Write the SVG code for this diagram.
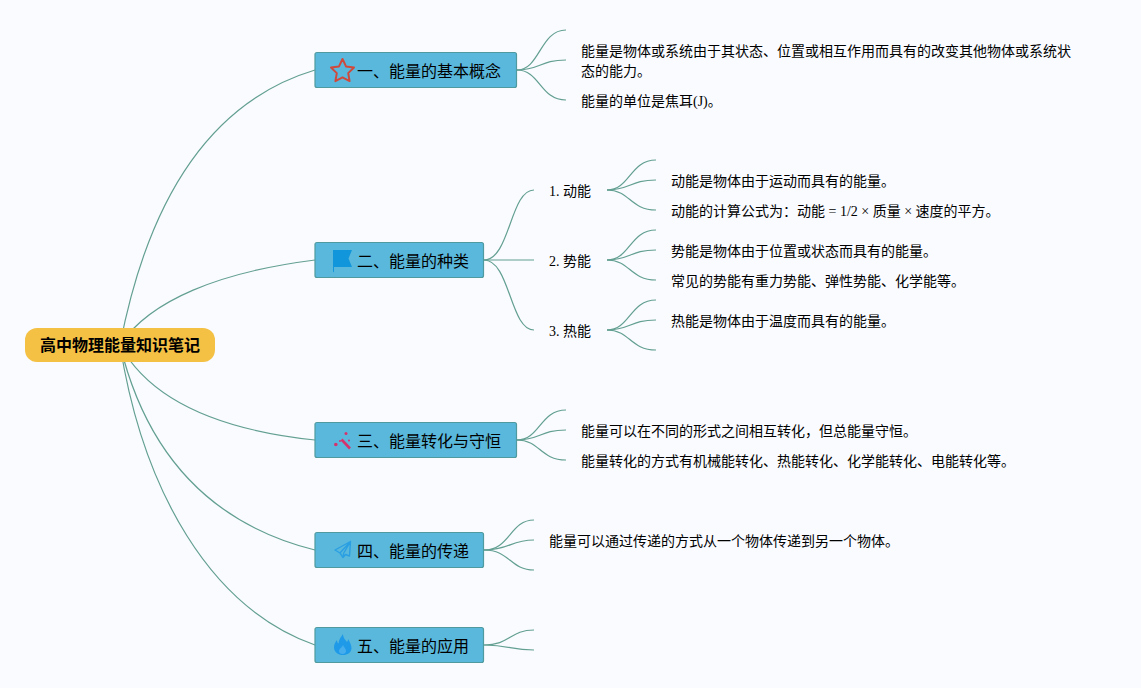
<svg xmlns="http://www.w3.org/2000/svg" width="1141" height="688" viewBox="0 0 1141 688">
<style>
text{font-family:"Liberation Serif","Noto Sans CJK SC",serif;fill:#000}
.c path{fill:none;stroke:#639f92;stroke-width:1.200}
.b{fill:#5ab8dc;stroke:#4f9a9e;stroke-width:1.200}
.t{font-size:16px}
.l{font-size:14px}
</style>
<rect width="1141" height="688" fill="#f9fbff"/>
<g id="connectors" class="c">
<path d="M120 345C150 190 215 100 315 70"/>
<path d="M120 345C150 300 220 272 315 260"/>
<path d="M120 345C150 400 220 430 315 440"/>
<path d="M120 345C148 460 215 525 315 550"/>
<path d="M120 345C143 490 210 608 315 645"/>
<path d="M517 70C540 70 540 30 566 30"/>
<path d="M517 70C540 70 540 60 566 60"/>
<path d="M517 70C540 70 540 100 566 100"/>
<path d="M484 260C510 260 510 190 534 190"/>
<path d="M484 260H534"/>
<path d="M484 260C510 260 510 330 534 330"/>
<path d="M607 190C630 190 630 160 656 160"/>
<path d="M607 190C630 190 630 180 656 180"/>
<path d="M607 190C630 190 630 210 656 210"/>
<path d="M607 260C630 260 630 230 656 230"/>
<path d="M607 260C630 260 630 250 656 250"/>
<path d="M607 260C630 260 630 280 656 280"/>
<path d="M607 330C630 330 630 300 656 300"/>
<path d="M607 330C630 330 630 320 656 320"/>
<path d="M607 330C630 330 630 350 656 350"/>
<path d="M517 440C540 440 540 410 566 410"/>
<path d="M517 440C540 440 540 430 566 430"/>
<path d="M517 440C540 440 540 460 566 460"/>
<path d="M484 550C510 550 510 520 534 520"/>
<path d="M484 550C510 550 510 540 534 540"/>
<path d="M484 550C510 550 510 570 534 570"/>
<path d="M484 645C510 645 510 630 534 630"/>
<path d="M484 645C510 645 510 650 534 650"/>
</g>
<g id="root"><rect x="25" y="328" width="190" height="34" rx="12" fill="#f4c145"/><text x="40" y="351" font-size="16" font-weight="bold">高中物理能量知识笔记</text></g>
<g id="n1"><rect class="b" x="315" y="52.500" width="201.500" height="35" rx="2"/>
<path d="M342.500 59l3.500 7.400 8 1.100-5.800 5.600 1.400 8-7.100-3.800-7.100 3.800 1.400-8-5.800-5.600 8-1.100z" fill="none" stroke="#cf4a3c" stroke-width="2" stroke-linejoin="round"/>
<text class="t" x="357" y="77">一、能量的基本概念</text></g>
<g id="n1a"><text class="l" x="581" y="56">能量是物体或系统由于其状态、位置或相互作用而具有的改变其他物体或系统状</text><text class="l" x="581" y="76">态的能力。</text></g>
<g id="n1b"><text class="l" x="581" y="106">能量的单位是焦耳(J)。</text></g>
<g id="n2"><rect class="b" x="315" y="242.500" width="168.500" height="35" rx="2"/>
<path d="M333 250H352L348.500 258.500 352 267H334V271.500L333 272.500z" fill="#1296db"/>
<text class="t" x="357" y="267">二、能量的种类</text></g>
<g id="n21"><text class="l" x="549" y="196">1. 动能</text></g>
<g id="n21a"><text class="l" x="671" y="186">动能是物体由于运动而具有的能量。</text></g>
<g id="n21b"><text class="l" x="671" y="216">动能的计算公式为：动能 = 1/2 × 质量 × 速度的平方。</text></g>
<g id="n22"><text class="l" x="549" y="266">2. 势能</text></g>
<g id="n22a"><text class="l" x="671" y="256">势能是物体由于位置或状态而具有的能量。</text></g>
<g id="n22b"><text class="l" x="671" y="286">常见的势能有重力势能、弹性势能、化学能等。</text></g>
<g id="n23"><text class="l" x="549" y="336">3. 热能</text></g>
<g id="n23a"><text class="l" x="671" y="326">热能是物体由于温度而具有的能量。</text></g>
<g id="n3"><rect class="b" x="315" y="422.500" width="201.500" height="35" rx="2"/>
<path d="M341.500 439.500l8.500 9" stroke="#d6336c" stroke-width="2.600" fill="none"/>
<g fill="#d6336c"><circle cx="346" cy="433.500" r="1.500"/><circle cx="335.800" cy="444.500" r="1.800"/><circle cx="349" cy="440.500" r="1"/><circle cx="340" cy="441" r="1"/></g>
<text class="t" x="357" y="447">三、能量转化与守恒</text></g>
<g id="n3a"><text class="l" x="581" y="436">能量可以在不同的形式之间相互转化，但总能量守恒。</text></g>
<g id="n3b"><text class="l" x="581" y="466">能量转化的方式有机械能转化、热能转化、化学能转化、电能转化等。</text></g>
<g id="n4"><rect class="b" x="315" y="532.500" width="168.500" height="35" rx="2"/>
<path d="M350.500 541.500L335 550 340 553 343 557.500 345.500 554.500 349.500 556zM340 553L350.500 541.500 343.500 553.500V557" fill="none" stroke="#2a9fe2" stroke-width="1.400" stroke-linejoin="round"/>
<text class="t" x="357" y="557">四、能量的传递</text></g>
<g id="n4a"><text class="l" x="549" y="546">能量可以通过传递的方式从一个物体传递到另一个物体。</text></g>
<g id="n5"><rect class="b" x="315" y="627.500" width="168.500" height="35" rx="2"/>
<path d="M343 634.500c.5 4 2.500 5.500 4 7.500.8-.8 1-2 1-3 2 3 3.500 6.500 3.500 9 0 4.500-4 7-8.500 7s-9-2.500-9-8c0-3 1.500-5 3-7 0 1.500.5 3 1.500 3.500 0-3.500 2.500-6.500 4.500-9.500z" fill="#1f9ae8"/><path d="M343 645c1 2.500 3 3.800 3 6 0 2-1.500 3-3.500 3s-3.500-1-3.500-3c0-2.200 3-3.500 4-6z" fill="#47aeee"/>
<text class="t" x="357" y="652">五、能量的应用</text></g>
</svg>
